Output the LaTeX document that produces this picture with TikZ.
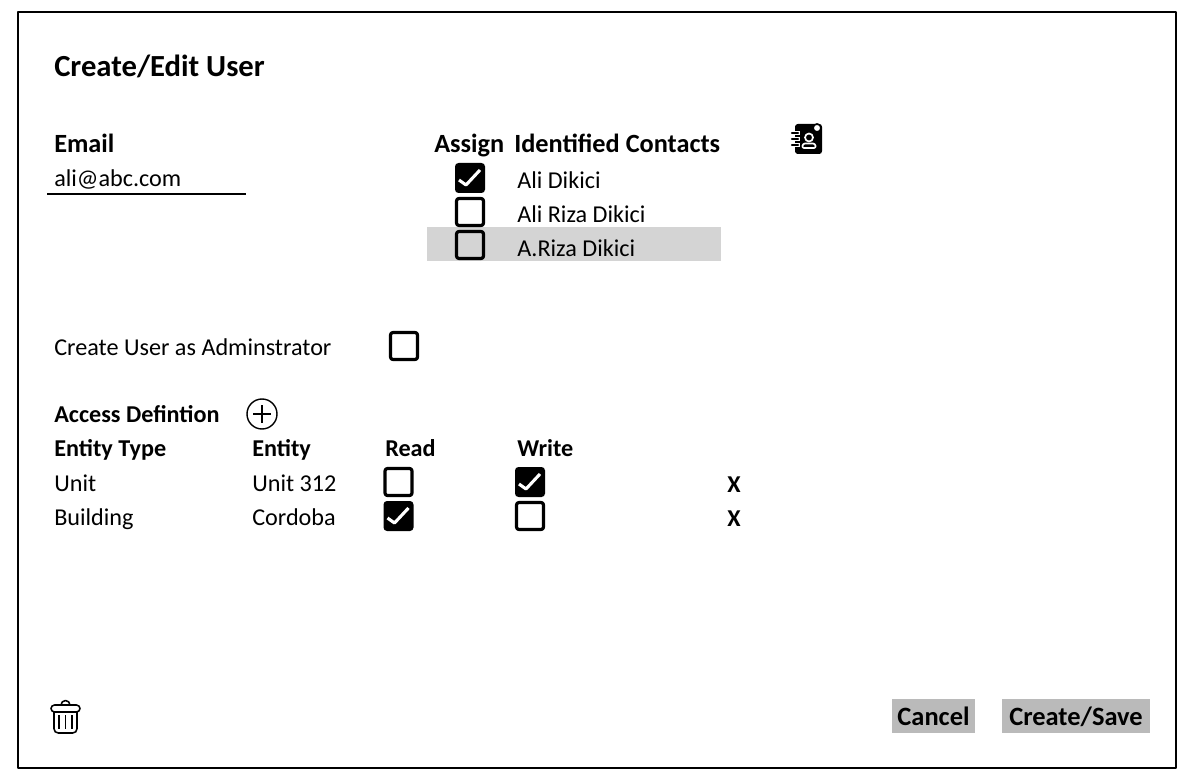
\documentclass[tikz,border=0pt]{standalone}
\usepackage{fontspec}
\setmainfont{Carlito}
\usetikzlibrary{positioning}

\tikzset{
	lab/.style={anchor=base west,inner sep=0pt,font=\fontsize{17.2}{18}\selectfont},
	head/.style={lab,font=\fontsize{17.2}{18}\selectfont\bfseries},
	bighead/.style={lab,font=\fontsize{18.7}{20}\selectfont\bfseries},
	btn/.style={fill=black!27,inner sep=0pt,minimum height=0.85cm,text height=15pt,text depth=0.8pt,font=\fontsize{18.8}{20}\selectfont\bfseries}
}

\begin{document}
\begin{tikzpicture}[x=0.025cm,y=-0.025cm,line join=round]

\def\cbox#1#2{
\draw[line width=2.3pt,rounded corners=1.5pt] ({#1-13.4},{#2-13.4}) rectangle ({#1+13.4},{#2+13.4});
}
\def\cchk#1#2{
\fill[rounded corners=2.5pt] ({#1-15},{#2-15}) rectangle ({#1+15},{#2+15});
\draw[white,line width=2.2pt] ({#1-11},{#2+2})--({#1-4},{#2+7})--({#1+10},{#2-8});
}

\useasboundingbox (0,0) rectangle (1194,780);
\fill[white] (0,0) rectangle (1194,780);
\draw[line width=1pt] (18,12) rectangle (1176,768);

\fill[black!17] (427,227) rectangle (721,261);

\node[head,font=\fontsize{21.8}{24}\selectfont\bfseries] (title) at (54,77) {Create/Edit User};

\node[bighead] (email) at (54,153) {Email};
\node[lab] (mail) at (54,187) {ali@abc.com};
\draw[line width=1pt] (47,194) -- (246,194);

\node[bighead] (assign) at (434,153) {Assign};
\node[bighead] (contacts) at (514,153) {Identified Contacts};
\node[lab] (ali) at (517,189) {Ali Dikici};
\node[lab] (riza) at (517,223) {Ali Riza Dikici};
\node[lab] (ariza) at (517,257) {A.Riza Dikici};

\cchk{470}{178}
\cbox{470}{212}
\cbox{470}{245}

% contacts book
\fill[rounded corners=2pt] (795,124) rectangle (822,154);
\foreach \y in {133,139,145}{
	\draw[line width=2.4pt,white] (790,\y) -- (800,\y);
	\draw[line width=1.6pt,line cap=round] (792,\y) -- (798,\y);
}
\draw[white,line width=1.2pt] (809,137.5) circle[radius=4];
\draw[white,line width=1.2pt,rounded corners=1.5pt] (802,148) -- (803,143.5) -- (815,143.5) -- (816,148) -- cycle;
\draw[fill=white,line width=1.2pt,draw=black] (817,128) circle[radius=4];

\node[lab] (admin) at (54,355) {Create User as Adminstrator};
\cbox{404}{346}

\node[head] (access) at (54,422) {Access Defintion};
\draw[line width=1pt] (262,414) circle[radius=15];
\draw[line width=1pt] (253,414) -- (271,414);
\draw[line width=1pt] (262,405) -- (262,423);

\node[head] (etype) at (54,456) {Entity Type};
\node[head] (entity) at (252,456) {Entity};
\node[head] (read) at (385,456) {Read};
\node[head] (write) at (517,456) {Write};

\node[lab] (unit) at (54,491) {Unit};
\node[lab] (unitb) at (252,491) {Unit 312};
\node[lab] (build) at (54,525) {Building};
\node[lab] (cord) at (252,525) {Cordoba};

\cbox{398.5}{482}
\cchk{530}{482}
\cchk{398.5}{516}
\cbox{530}{516}

\node[head] (xa) at (727,492) {X};
\node[head] (xb) at (727,526) {X};

% trash can
\draw[line width=1.1pt,rounded corners=2.5pt] (51,705) rectangle (80,712);
\draw[line width=1.1pt] (61,705) arc[start angle=180,end angle=360,radius=4.5];
\draw[line width=1.1pt,rounded corners=3pt] (54,712) -- (54,733) -- (77,733) -- (77,712);
\foreach \x in {59,65.5,72}{
	\draw[line width=1.1pt] (\x,715) -- (\x,729);
}

\node[btn,minimum width=2.075cm] (cancel) at (933.5,716) {Cancel};
\node[btn,minimum width=3.675cm] (save) at (1076,716) {Create/Save};

\end{tikzpicture}
\end{document}
